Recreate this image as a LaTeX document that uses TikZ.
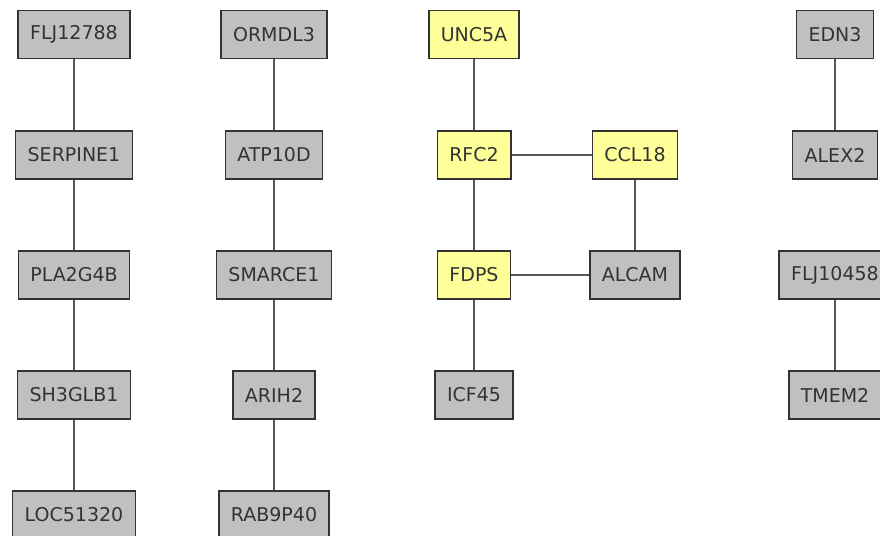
\documentclass[tikz,border=0pt]{standalone}
\usepackage{fontspec}
\setmainfont{DejaVu Sans}
\usepackage{tikz}
\definecolor{genegray}{HTML}{C0C0C0}
\definecolor{geneyellow}{HTML}{FFFF99}
\definecolor{boxline}{HTML}{333333}
\definecolor{edgeline}{HTML}{555555}
\tikzset{
  gene/.style={draw=boxline,line width=1.5pt,fill=genegray,text=boxline,
    inner xsep=12pt,inner ysep=0pt,minimum height=48pt,
    font=\fontsize{19}{22}\selectfont},
  hit/.style={gene,fill=geneyellow},
  link/.style={draw=edgeline,line width=1.5pt}
}

\begin{document}
\begin{tikzpicture}[x=1pt,y=-1pt]
  \useasboundingbox (0,0) rectangle (880,535);
  % first chain
  \node[gene] (flj12788) at (74,34.5) {FLJ12788};
  \node[gene] (serpine1) at (74,155) {SERPINE1};
  \node[gene] (pla2g4b) at (74,275) {PLA2G4B};
  \node[gene] (sh3glb1) at (74,395) {SH3GLB1};
  \node[gene] (loc51320) at (74,515) {LOC51320};
  % second chain
  \node[gene] (ormdl3) at (274,34.5) {ORMDL3};
  \node[gene] (atp10d) at (274,155) {ATP10D};
  \node[gene] (smarce1) at (274,275) {SMARCE1};
  \node[gene] (arih2) at (274,395) {ARIH2};
  \node[gene] (rab9p40) at (274,515) {RAB9P40};
  % highlighted cluster
  \node[hit] (unc5a) at (474,34.5) {UNC5A};
  \node[hit] (rfc2) at (474,155) {RFC2};
  \node[hit] (fdps) at (474,275) {FDPS};
  \node[gene] (icf45) at (474,395) {ICF45};
  \node[hit] (ccl18) at (635,155) {CCL18};
  \node[gene] (alcam) at (635,275) {ALCAM};
  % right chains
  \node[gene] (edn3) at (835,34.5) {EDN3};
  \node[gene] (alex2) at (835,155) {ALEX2};
  \node[gene] (flj10458) at (835,275) {FLJ10458};
  \node[gene] (tmem2) at (835,395) {TMEM2};

  \draw[link] (flj12788) -- (serpine1) -- (pla2g4b) -- (sh3glb1) -- (loc51320);
  \draw[link] (ormdl3) -- (atp10d) -- (smarce1) -- (arih2) -- (rab9p40);
  \draw[link] (unc5a) -- (rfc2) -- (fdps) -- (icf45);
  \draw[link] (rfc2) -- (ccl18) -- (alcam) -- (fdps);
  \draw[link] (edn3) -- (alex2);
  \draw[link] (flj10458) -- (tmem2);
\end{tikzpicture}
\end{document}
